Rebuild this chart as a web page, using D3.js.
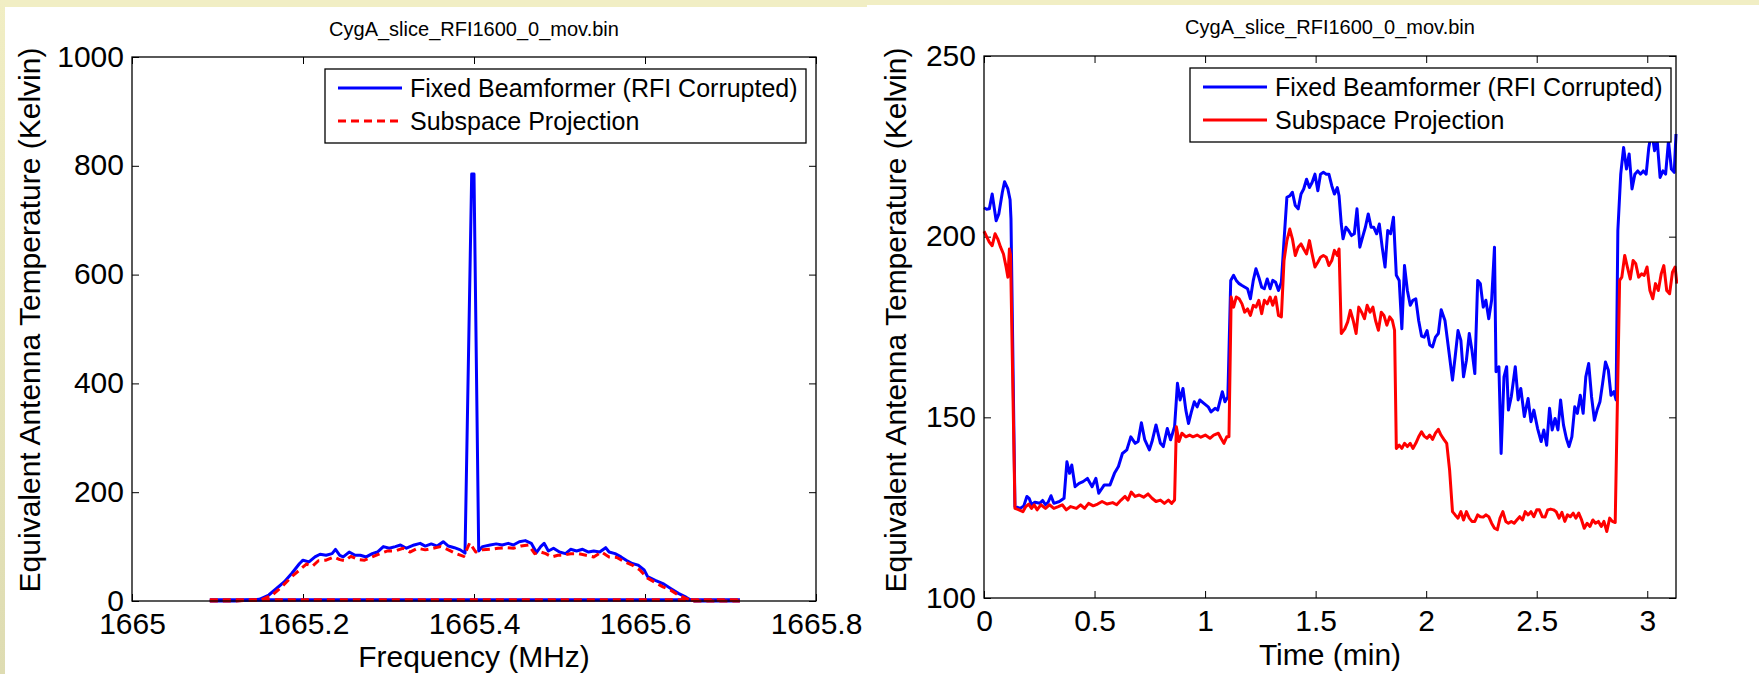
<!DOCTYPE html>
<html>
<head>
<meta charset="utf-8">
<script src="https://cdn.jsdelivr.net/npm/d3@7"></script>
<style>
  html, body { margin: 0; padding: 0; background: #f1eec4; }
  svg { display: block; }
  text { font-family: "Liberation Sans", Arial, Helvetica, sans-serif; fill: #000; }
</style>
</head>
<body>
<svg id="chart" width="1759" height="674"></svg>
<script>
// ---------------- DATA ----------------
const chartTitle = "CygA_slice_RFI1600_0_mov.bin";
const seriesNames = ["Fixed Beamformer (RFI Corrupted)", "Subspace Projection"];

// Left panel: spectrum
const freqTicks = [1665, 1665.2, 1665.4, 1665.6, 1665.8];
const freqTickLabels = ["1665", "1665.2", "1665.4", "1665.6", "1665.8"];
const specTicks = [0, 200, 400, 600, 800, 1000];
const specTickLabels = ["0", "200", "400", "600", "800", "1000"];
const freqSpan = [1665.091, 1665.711]; // zero baseline extent of both spectra

const beamFreq = [1665.091, 1665.120, 1665.149, 1665.160, 1665.169, 1665.178, 1665.187, 1665.196, 1665.200, 1665.207,
  1665.214, 1665.220, 1665.227, 1665.234, 1665.238, 1665.243, 1665.247, 1665.254, 1665.261, 1665.267,
  1665.274, 1665.281, 1665.287, 1665.294, 1665.301, 1665.308, 1665.314, 1665.321, 1665.330, 1665.337,
  1665.343, 1665.350, 1665.357, 1665.364, 1665.370, 1665.377, 1665.384, 1665.3895, 1665.3973, 1665.400,
  1665.4055, 1665.410, 1665.419, 1665.426, 1665.433, 1665.440, 1665.446, 1665.453, 1665.460, 1665.467,
  1665.473, 1665.478, 1665.482, 1665.487, 1665.493, 1665.500, 1665.507, 1665.513, 1665.520, 1665.527,
  1665.534, 1665.540, 1665.547, 1665.554, 1665.558, 1665.565, 1665.572, 1665.578, 1665.585, 1665.592,
  1665.599, 1665.603, 1665.612, 1665.621, 1665.630, 1665.639, 1665.648, 1665.652, 1665.658, 1665.690, 1665.711];
const beamSpec = [0, 0, 3, 11, 23, 35, 51, 69, 75, 72,
  81, 86, 84, 87, 95, 84, 81, 90, 84, 84,
  81, 87, 90, 100, 97, 100, 103, 97, 103, 106,
  101, 105, 101, 109, 101, 98, 94, 88, 785, 785,
  92, 100, 103, 105, 103, 106, 103, 109, 111, 106,
  89, 100, 106, 92, 97, 90, 87, 95, 92, 95,
  90, 92, 90, 98, 90, 87, 81, 75, 69, 66,
  57, 45, 38, 32, 23, 14, 7, 3, 0, 0, 0];

const subFreq = [1665.091, 1665.120, 1665.151, 1665.164, 1665.175, 1665.187, 1665.196, 1665.204, 1665.211, 1665.218,
  1665.227, 1665.236, 1665.243, 1665.249, 1665.256, 1665.265, 1665.272, 1665.281, 1665.290, 1665.299,
  1665.308, 1665.317, 1665.325, 1665.334, 1665.343, 1665.352, 1665.361, 1665.370, 1665.379, 1665.388,
  1665.395, 1665.402, 1665.410, 1665.419, 1665.428, 1665.437, 1665.446, 1665.455, 1665.464, 1665.471,
  1665.478, 1665.484, 1665.491, 1665.498, 1665.504, 1665.513, 1665.522, 1665.531, 1665.540, 1665.549,
  1665.558, 1665.567, 1665.576, 1665.585, 1665.594, 1665.603, 1665.612, 1665.621, 1665.630, 1665.639,
  1665.648, 1665.654, 1665.690, 1665.711];
const subSpec = [0, 0, 2, 11, 26, 45, 57, 68, 64, 74,
  75, 81, 76, 74, 82, 76, 75, 81, 87, 92,
  92, 97, 90, 97, 94, 97, 100, 94, 87, 82,
  107, 90, 94, 95, 97, 98, 97, 101, 103, 87,
  90, 87, 81, 84, 84, 87, 87, 84, 81, 90,
  81, 80, 72, 66, 57, 42, 34, 26, 20, 11,
  5, 0, 0, 0];

// Right panel: time series
const timeTicks = [0, 0.5, 1, 1.5, 2, 2.5, 3];
const timeTickLabels = ["0", "0.5", "1", "1.5", "2", "2.5", "3"];
const tempTicks = [100, 150, 200, 250];
const tempTickLabels = ["100", "150", "200", "250"];

const beamTime = [0.000, 0.012, 0.024, 0.037, 0.055, 0.067, 0.083, 0.093, 0.108, 0.118,
  0.122, 0.140, 0.164, 0.180, 0.194, 0.205, 0.215, 0.230, 0.252, 0.265,
  0.278, 0.290, 0.303, 0.316, 0.341, 0.362, 0.375, 0.387, 0.397, 0.412,
  0.430, 0.448, 0.468, 0.489, 0.506, 0.519, 0.544, 0.570, 0.590, 0.608,
  0.626, 0.646, 0.664, 0.684, 0.697, 0.712, 0.727, 0.748, 0.760, 0.778,
  0.798, 0.811, 0.829, 0.844, 0.862, 0.875, 0.887, 0.900, 0.913, 0.925,
  0.938, 0.951, 0.964, 0.976, 0.996, 1.014, 1.027, 1.045, 1.057, 1.078,
  1.090, 1.103, 1.116, 1.129, 1.141, 1.154, 1.167, 1.192, 1.205, 1.218,
  1.230, 1.243, 1.256, 1.268, 1.281, 1.294, 1.306, 1.319, 1.332, 1.345,
  1.357, 1.370, 1.383, 1.395, 1.408, 1.421, 1.434, 1.446, 1.459, 1.472,
  1.484, 1.497, 1.510, 1.522, 1.535, 1.548, 1.560, 1.573, 1.585, 1.598,
  1.606, 1.616, 1.624, 1.637, 1.649, 1.662, 1.675, 1.687, 1.700, 1.712,
  1.725, 1.738, 1.751, 1.763, 1.776, 1.788, 1.801, 1.814, 1.826, 1.839,
  1.852, 1.865, 1.878, 1.890, 1.902, 1.915, 1.928, 1.940, 1.953, 1.966,
  1.979, 1.991, 2.004, 2.016, 2.029, 2.042, 2.055, 2.068, 2.085, 2.106,
  2.119, 2.131, 2.144, 2.157, 2.169, 2.182, 2.195, 2.207, 2.220, 2.233,
  2.245, 2.258, 2.270, 2.283, 2.296, 2.309, 2.316, 2.329, 2.339, 2.352,
  2.364, 2.372, 2.385, 2.403, 2.416, 2.428, 2.444, 2.461, 2.474, 2.487,
  2.504, 2.520, 2.532, 2.545, 2.558, 2.570, 2.583, 2.596, 2.608, 2.621,
  2.634, 2.646, 2.659, 2.672, 2.684, 2.697, 2.710, 2.722, 2.735, 2.748,
  2.761, 2.773, 2.786, 2.798, 2.811, 2.824, 2.836, 2.849, 2.859, 2.867,
  2.880, 2.893, 2.906, 2.918, 2.931, 2.944, 2.957, 2.969, 2.982, 2.995,
  3.007, 3.020, 3.033, 3.045, 3.058, 3.071, 3.083, 3.096, 3.109, 3.122, 3.130];
const beamTemp = [208.0, 207.6, 207.7, 211.8, 204.4, 206.3, 212.3, 215.2, 213.2, 210.2,
  205.0, 125.3, 124.8, 125.5, 128.1, 127.5, 125.8, 126.5, 126.2, 127.0,
  125.8, 126.5, 128.3, 126.2, 126.7, 127.6, 137.7, 134.5, 136.8, 130.8,
  131.7, 132.2, 133.1, 130.8, 133.1, 129.0, 131.3, 131.3, 134.5, 136.4,
  140.0, 141.0, 144.6, 142.8, 143.3, 148.5, 143.8, 141.0, 143.3, 147.9,
  142.8, 141.9, 146.9, 143.8, 147.4, 159.4, 154.8, 158.0, 152.0, 148.3,
  151.5, 154.3, 152.9, 154.8, 153.8, 152.9, 151.5, 152.5, 152.0, 157.1,
  154.3, 155.7, 187.9, 189.3, 187.9, 187.0, 186.5, 185.6, 182.8, 187.9,
  191.1, 188.8, 186.0, 185.6, 188.3, 185.6, 187.9, 187.4, 185.1, 187.4,
  198.9, 210.9, 211.3, 212.3, 208.6, 207.7, 211.8, 213.2, 215.9, 213.6,
  215.0, 217.3, 212.7, 217.3, 217.8, 217.3, 217.3, 214.1, 211.8, 213.6,
  211.3, 203.5, 199.4, 202.6, 201.7, 200.3, 200.8, 207.7, 197.1, 199.8,
  202.6, 206.3, 202.6, 202.6, 200.8, 203.5, 197.1, 191.6, 201.7, 200.8,
  205.4, 189.3, 187.9, 174.5, 192.0, 185.1, 181.0, 182.4, 182.8, 176.8,
  172.5, 172.2, 174.0, 170.0, 169.5, 172.2, 173.2, 179.8, 176.8, 166.7,
  160.3, 166.7, 174.0, 171.3, 161.2, 165.8, 173.2, 168.6, 162.1, 187.9,
  187.0, 180.5, 182.4, 177.3, 182.4, 197.1, 162.6, 164.0, 140.0, 161.2,
  164.0, 152.0, 155.7, 164.0, 154.8, 158.0, 150.2, 155.2, 148.8, 152.0,
  146.9, 143.3, 146.5, 142.3, 152.5, 146.5, 149.7, 146.5, 154.8, 147.9,
  144.2, 141.9, 144.6, 152.9, 151.1, 156.1, 151.1, 161.2, 164.9, 155.7,
  149.2, 152.0, 154.3, 159.4, 165.3, 163.0, 156.1, 157.1, 154.8, 201.7,
  217.3, 224.7, 218.7, 222.9, 213.2, 217.3, 218.2, 217.3, 218.2, 217.3,
  224.7, 229.3, 223.8, 226.5, 216.4, 218.2, 217.3, 226.5, 218.7, 217.8, 228.4];

const subTime = [0.000, 0.012, 0.024, 0.037, 0.050, 0.062, 0.075, 0.088, 0.100, 0.108,
  0.115, 0.120, 0.140, 0.158, 0.176, 0.189, 0.202, 0.215, 0.227, 0.240,
  0.257, 0.278, 0.296, 0.316, 0.336, 0.354, 0.372, 0.392, 0.418, 0.437,
  0.455, 0.473, 0.494, 0.514, 0.534, 0.557, 0.582, 0.600, 0.620, 0.638,
  0.651, 0.666, 0.684, 0.702, 0.722, 0.742, 0.760, 0.778, 0.798, 0.816,
  0.834, 0.849, 0.862, 0.870, 0.882, 0.895, 0.913, 0.930, 0.945, 0.964,
  0.981, 1.001, 1.022, 1.039, 1.060, 1.072, 1.085, 1.098, 1.108, 1.118,
  1.129, 1.141, 1.154, 1.167, 1.179, 1.192, 1.205, 1.218, 1.230, 1.243,
  1.256, 1.268, 1.281, 1.294, 1.306, 1.319, 1.332, 1.345, 1.357, 1.370,
  1.383, 1.395, 1.408, 1.421, 1.434, 1.446, 1.459, 1.472, 1.484, 1.497,
  1.510, 1.522, 1.535, 1.548, 1.560, 1.573, 1.585, 1.598, 1.606, 1.616,
  1.632, 1.645, 1.657, 1.670, 1.683, 1.695, 1.708, 1.721, 1.733, 1.746,
  1.759, 1.771, 1.784, 1.797, 1.809, 1.822, 1.835, 1.847, 1.857, 1.865,
  1.878, 1.890, 1.902, 1.915, 1.928, 1.940, 1.953, 1.966, 1.979, 1.991,
  2.004, 2.016, 2.029, 2.042, 2.055, 2.067, 2.080, 2.093, 2.106, 2.119,
  2.131, 2.144, 2.157, 2.169, 2.182, 2.195, 2.207, 2.220, 2.233, 2.245,
  2.258, 2.270, 2.283, 2.296, 2.309, 2.322, 2.334, 2.347, 2.360, 2.372,
  2.385, 2.398, 2.410, 2.423, 2.436, 2.448, 2.461, 2.474, 2.487, 2.500,
  2.512, 2.525, 2.538, 2.550, 2.563, 2.576, 2.588, 2.601, 2.614, 2.627,
  2.639, 2.652, 2.665, 2.677, 2.690, 2.703, 2.715, 2.728, 2.741, 2.754,
  2.766, 2.779, 2.792, 2.804, 2.817, 2.830, 2.842, 2.855, 2.875, 2.885,
  2.898, 2.910, 2.923, 2.936, 2.948, 2.961, 2.974, 2.986, 2.999, 3.012,
  3.025, 3.037, 3.050, 3.063, 3.075, 3.088, 3.101, 3.114, 3.126, 3.134];
const subTemp = [201.5, 200.0, 198.5, 197.5, 200.8, 199.4, 197.1, 195.2, 191.6, 188.8,
  196.6, 195.0, 124.8, 124.4, 123.9, 125.3, 126.0, 124.8, 125.8, 124.4,
  125.8, 124.8, 125.8, 124.8, 125.3, 125.8, 124.4, 125.3, 124.8, 125.8,
  124.8, 126.2, 125.5, 126.0, 126.7, 126.0, 126.4, 125.8, 127.1, 128.1,
  127.1, 129.3, 128.1, 128.5, 127.9, 128.8, 127.6, 126.7, 127.1, 126.2,
  127.1, 126.2, 127.1, 147.4, 143.3, 145.6, 144.6, 145.1, 144.6, 145.1,
  144.5, 145.1, 144.2, 145.1, 145.6, 144.2, 142.8, 144.6, 144.6, 183.3,
  180.5, 183.3, 182.8, 181.4, 179.1, 180.0, 178.2, 181.0, 180.5, 182.4,
  178.7, 182.4, 181.4, 183.3, 181.0, 183.3, 178.2, 177.8, 193.4, 198.9,
  202.1, 199.4, 194.8, 197.1, 198.0, 196.6, 195.2, 198.9, 195.2, 191.6,
  192.9, 194.3, 194.8, 194.3, 192.0, 193.4, 196.2, 194.8, 196.6, 173.2,
  174.5, 176.4, 179.6, 176.8, 173.2, 180.5, 179.1, 177.3, 181.0, 179.1,
  180.5, 176.8, 174.1, 179.1, 178.2, 175.5, 177.8, 176.8, 174.1, 141.4,
  142.3, 141.4, 142.8, 141.9, 142.8, 141.4, 142.8, 144.6, 146.0, 144.8,
  144.2, 145.1, 143.9, 145.6, 146.7, 145.1, 143.9, 142.8, 135.4, 123.9,
  123.0, 122.1, 123.9, 121.6, 123.9, 122.1, 121.2, 121.2, 123.0, 122.5,
  122.4, 123.0, 122.5, 120.7, 119.3, 118.9, 122.1, 123.9, 121.2, 120.7,
  121.2, 120.7, 121.6, 122.5, 121.6, 123.9, 123.0, 123.9, 122.5, 124.4,
  124.4, 122.5, 122.4, 124.4, 124.6, 124.4, 123.9, 122.1, 123.7, 121.2,
  123.0, 122.5, 123.5, 122.1, 123.5, 121.6, 119.3, 120.7, 119.8, 121.6,
  120.7, 121.2, 119.8, 121.2, 118.4, 122.1, 121.2, 120.9, 187.9, 188.8,
  194.8, 191.6, 188.3, 193.4, 192.5, 188.8, 189.7, 189.3, 191.6, 185.1,
  182.8, 187.0, 185.1, 189.7, 192.0, 185.1, 184.2, 190.2, 191.6, 187.0];

// ---------------- DRAW ----------------
const svg = d3.select("#chart");
const W = 1759, H = 674;
const BLUE = "#0000ff", RED = "#ff0000";
const FONT = '"Liberation Sans", Arial, Helvetica, sans-serif';

// background: pale yellow frame strips + white panels
const defs = svg.append("defs");
const grad = defs.append("linearGradient").attr("id", "leftStrip")
  .attr("x1", 0).attr("y1", 0).attr("x2", 0).attr("y2", 1);
grad.append("stop").attr("offset", "0%").attr("stop-color", "#f1eec4");
grad.append("stop").attr("offset", "100%").attr("stop-color", "#dedcb2");
svg.append("rect").attr("x", 0).attr("y", 0).attr("width", W).attr("height", H).attr("fill", "#f1eec4");
svg.append("rect").attr("x", 0).attr("y", 0).attr("width", 6).attr("height", H).attr("fill", "url(#leftStrip)");
svg.append("rect").attr("x", 5).attr("y", 7).attr("width", 863).attr("height", H - 7).attr("fill", "#ffffff");
svg.append("rect").attr("x", 867).attr("y", 5).attr("width", W - 867).attr("height", H - 5).attr("fill", "#ffffff");

function drawPanel(cfg) {
  const g = svg.append("g");
  const x = d3.scaleLinear().domain(cfg.xDomain).range([cfg.left, cfg.right]);
  const y = d3.scaleLinear().domain(cfg.yDomain).range([cfg.bottom, cfg.top]);
  const clipId = "clip" + cfg.id;
  const pad = 2;
  defs.append("clipPath").attr("id", clipId).append("rect")
    .attr("x", cfg.left - pad).attr("y", cfg.top - pad)
    .attr("width", cfg.right - cfg.left + 2 * pad).attr("height", cfg.bottom - cfg.top + 2 * pad);

  // title
  g.append("text").attr("x", (cfg.left + cfg.right) / 2).attr("y", cfg.titleY)
    .attr("text-anchor", "middle").style("font-size", "20px").text(chartTitle);

  // axes with inward ticks (bottom/top, left/right)
  const tickLen = 7;
  const xAxis = d3.axisBottom(x).tickValues(cfg.xTicks).tickSizeInner(-tickLen).tickSizeOuter(0)
    .tickFormat((d, i) => cfg.xTickLabels[i]).tickPadding(12);
  const gx = g.append("g").attr("transform", `translate(0,${cfg.bottom})`).call(xAxis);
  gx.select(".domain").remove();
  gx.selectAll("text").style("font-size", "30px").style("font-family", FONT).attr("dy", null).attr("y", 33)
    .attr("dominant-baseline", "alphabetic");
  const xAxisTop = d3.axisTop(x).tickValues(cfg.xTicks).tickSizeInner(-tickLen).tickSizeOuter(0).tickFormat("");
  const gxt = g.append("g").attr("transform", `translate(0,${cfg.top})`).call(xAxisTop);
  gxt.select(".domain").remove();

  const yAxis = d3.axisLeft(y).tickValues(cfg.yTicks).tickSizeInner(-tickLen).tickSizeOuter(0)
    .tickFormat((d, i) => cfg.yTickLabels[i]).tickPadding(8);
  const gy = g.append("g").attr("transform", `translate(${cfg.left},0)`).call(yAxis);
  gy.select(".domain").remove();
  gy.selectAll("text").style("font-size", "30px").style("font-family", FONT).attr("x", -8)
    .attr("dy", "0.30em");
  const yAxisRight = d3.axisRight(y).tickValues(cfg.yTicks).tickSizeInner(-tickLen).tickSizeOuter(0).tickFormat("");
  const gyr = g.append("g").attr("transform", `translate(${cfg.right},0)`).call(yAxisRight);
  gyr.select(".domain").remove();
  g.selectAll(".tick line").attr("stroke", "#000").attr("stroke-width", 1);

  // data lines
  const plot = g.append("g").attr("clip-path", `url(#${clipId})`);
  const line = d3.line().x(d => x(d[0])).y(d => y(d[1]));
  cfg.series.forEach(s => {
    const pts = d3.zip(s.x, s.y);
    if (s.baseline) {
      plot.append("path").datum(s.baseline.map(v => [v, 0]))
        .attr("d", line).attr("fill", "none").attr("stroke", s.color).attr("stroke-width", 3.4)
        .attr("transform", "translate(0,-1)")
        .attr("stroke-dasharray", s.dash || null);
    }
    plot.append("path").datum(pts).attr("d", line).attr("fill", "none")
      .attr("stroke", s.color).attr("stroke-width", 3).attr("stroke-linejoin", "round")
      .attr("stroke-dasharray", s.dash || null);
  });

  // frame
  g.append("rect").attr("x", cfg.left).attr("y", cfg.top)
    .attr("width", cfg.right - cfg.left).attr("height", cfg.bottom - cfg.top)
    .attr("fill", "none").attr("stroke", "#000").attr("stroke-width", 1.3);

  // axis labels
  g.append("text").attr("x", (cfg.left + cfg.right) / 2).attr("y", cfg.xLabelY)
    .attr("text-anchor", "middle").style("font-size", "30px").text(cfg.xLabel);
  g.append("text").attr("transform", `translate(${cfg.yLabelX},${cfg.yLabelY}) rotate(-90)`)
    .attr("text-anchor", "middle").style("font-size", "30px").text("Equivalent Antenna Temperature (Kelvin)");

  // legend
  const L = cfg.legend;
  g.append("rect").attr("x", L.x).attr("y", L.y).attr("width", L.w).attr("height", L.h)
    .attr("fill", "#fff").attr("stroke", "#000").attr("stroke-width", 1.3);
  cfg.series.forEach((s, i) => {
    const ly = L.y + 19 + i * 33;
    g.append("line").attr("x1", L.x + 13).attr("x2", L.x + 77).attr("y1", ly).attr("y2", ly)
      .attr("stroke", s.color).attr("stroke-width", 3).attr("stroke-dasharray", s.dash || null);
    g.append("text").attr("x", L.x + 85).attr("y", ly + 9).style("font-size", "25px").text(seriesNames[i]);
  });
}

drawPanel({
  id: "L", left: 132, right: 816, top: 57, bottom: 601,
  xDomain: [1665, 1665.8], yDomain: [0, 1000],
  xTicks: freqTicks, xTickLabels: freqTickLabels,
  yTicks: specTicks, yTickLabels: specTickLabels,
  titleY: 36, xLabel: "Frequency (MHz)", xLabelY: 667,
  yLabelX: 40, yLabelY: 320,
  legend: { x: 325, y: 69, w: 481, h: 74 },
  series: [
    { x: beamFreq, y: beamSpec, color: BLUE, baseline: freqSpan },
    { x: subFreq, y: subSpec, color: RED, dash: "8,5", baseline: freqSpan }
  ]
});

drawPanel({
  id: "R", left: 984, right: 1676, top: 56, bottom: 598,
  xDomain: [0, 3.13], yDomain: [100, 250],
  xTicks: timeTicks, xTickLabels: timeTickLabels,
  yTicks: tempTicks, yTickLabels: tempTickLabels,
  titleY: 34, xLabel: "Time (min)", xLabelY: 665,
  yLabelX: 906, yLabelY: 320,
  legend: { x: 1190, y: 68, w: 481, h: 74 },
  series: [
    { x: beamTime, y: beamTemp, color: BLUE },
    { x: subTime, y: subTemp, color: RED }
  ]
});
</script>
</body>
</html>
